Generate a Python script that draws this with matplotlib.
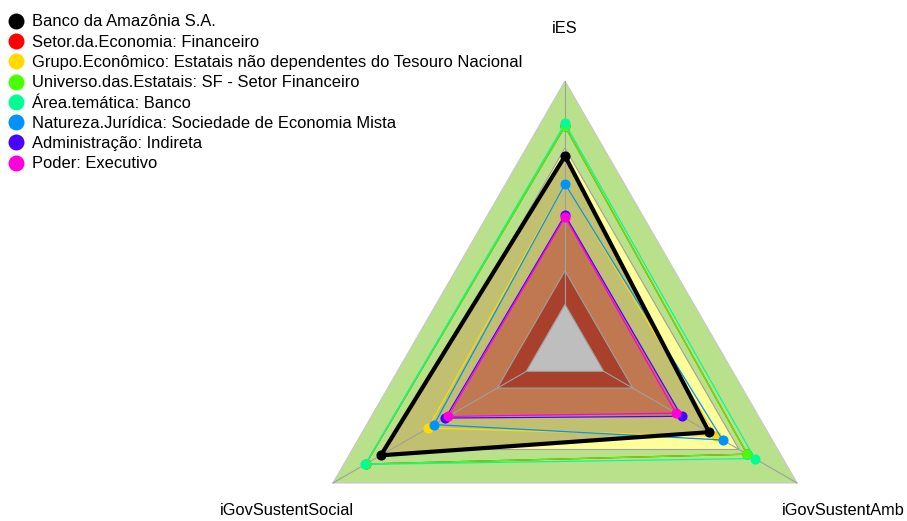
import numpy as np
import matplotlib
matplotlib.use("Agg")
import matplotlib.pyplot as plt
from matplotlib.patches import Polygon

# ---------------- data ----------------
categories = ['iES', 'iGovSustentSocial', 'iGovSustentAmb']
angles_deg = [90, 210, 330]

series_names = [
    'Banco da Amazônia S.A.',
    'Setor.da.Economia: Financeiro',
    'Grupo.Econômico: Estatais não dependentes do Tesouro Nacional',
    'Universo.das.Estatais: SF - Setor Financeiro',
    'Área.temática: Banco',
    'Natureza.Jurídica: Sociedade de Economia Mista',
    'Administração: Indireta',
    'Poder: Executivo',
]
banco    = [0.664, 0.752, 0.545]
setor    = [0.797, 0.830, 0.742]
grupo    = [0.540, 0.508, 0.582]
universo = [0.797, 0.830, 0.742]
area     = [0.810, 0.833, 0.781]
natureza = [0.539, 0.477, 0.615]
admin    = [0.400, 0.418, 0.403]
poder    = [0.392, 0.404, 0.374]
series_values = [banco, setor, grupo, universo, area, natureza, admin, poder]
series_colors = ['#000000', '#FF0000', '#FFDB00', '#49FF00',
                 '#00FF92', '#0092FF', '#4900FF', '#FF00DB']

# capability bands (outer level of each band)
band_levels = [1.0, 0.7, 0.4, 0.15, 0.0]
band_colors = ['#B9E08B', '#FFFF99', '#C07850', '#A8402C', '#BEBEBE']
olive = '#C0C070'

# ---------------- helpers ----------------
SEG = 5
theta = np.deg2rad(angles_deg)

def radius(v):
    return 1.0 / (SEG + 1) + np.asarray(v, dtype=float) * SEG / (SEG + 1)

def xy(vals):
    r = radius(vals)
    return np.column_stack([r * np.cos(theta), r * np.sin(theta)])

# ---------------- figure ----------------
W, H = 907, 521
fig = plt.figure(figsize=(W / 100, H / 100), dpi=100)
ax = fig.add_axes([0, 0, 1, 1])
ax.set_axis_off()
Rpx = 268.0
cx, cy = 565.0, 349.0
ax.set_xlim(-cx / Rpx, (W - cx) / Rpx)
ax.set_ylim(-(H - cy) / Rpx, cy / Rpx)
ax.set_aspect('equal')

plt.rcParams['font.family'] = ['Liberation Sans', 'DejaVu Sans']
FS = 11.8

# bands
ax.add_patch(Polygon(xy([band_levels[0]] * 3), closed=True, fc=band_colors[0],
                     ec='#C8C8C8', lw=0.8, zorder=1))
ax.add_patch(Polygon(xy([band_levels[1]] * 3), closed=True, fc=band_colors[1],
                     ec='#A0A0A0', lw=0.8, zorder=2))
# area of the company (olive)
ax.add_patch(Polygon(xy(banco), closed=True, fc=olive, ec='none', zorder=3))
for lvl, col, z in zip(band_levels[2:], band_colors[2:], [4, 5, 6]):
    ax.add_patch(Polygon(xy([lvl] * 3), closed=True, fc=col,
                         ec='#A0A0A0', lw=0.8, zorder=z))

# axis spokes
r0 = 1.0 / (SEG + 1)
for t in theta:
    ax.plot([r0 * np.cos(t), np.cos(t)], [r0 * np.sin(t), np.sin(t)],
            color='#A0A0A0', lw=0.8, zorder=7)

# series (Banco drawn last, on top)
order = list(range(1, len(series_values))) + [0]
for i in order:
    p = xy(series_values[i])
    pc = np.vstack([p, p[:1]])
    lw = 3.0 if i == 0 else 0.9
    ax.plot(pc[:, 0], pc[:, 1], color=series_colors[i], lw=lw,
            solid_joinstyle='miter', zorder=10 + (20 if i == 0 else i))
    ax.plot(p[:, 0], p[:, 1], 'o', color=series_colors[i], ms=7.3,
            mec='none', zorder=10 + (20 if i == 0 else i))

# axis labels
for lab, t in zip(categories, theta):
    ax.text(1.2 * np.cos(t), 1.2 * np.sin(t) - 0.004, lab, fontsize=FS,
            ha='center', va='center', zorder=40)

# legend
handles = [plt.Line2D([], [], ls='none', marker='o', ms=11.5, mec='none',
                      color=c) for c in series_colors]
leg = fig.legend(handles, series_names, loc='upper left',
                 bbox_to_anchor=(0.0035, 0.985), frameon=False, fontsize=11.9,
                 handlelength=0.8, handletextpad=0.55, labelspacing=0.32,
                 borderaxespad=0.2, borderpad=0.2)

fig.savefig('out.png', dpi=100)
